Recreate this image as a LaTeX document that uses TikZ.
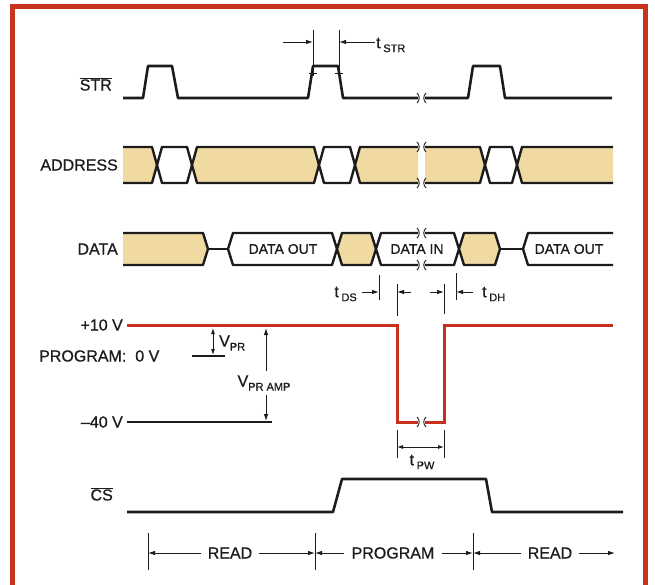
\documentclass[tikz,border=0pt]{standalone}
\usepackage{fontspec}
\setmainfont{Liberation Sans}[FakeBold=0.8]
\usetikzlibrary{arrows.meta, positioning, calc}
\definecolor{colFrame}{HTML}{C9341F}
\definecolor{colPulse}{HTML}{C8301E}
\definecolor{colBus}{HTML}{F0DAA2}
\definecolor{colInk}{HTML}{1C1C1C}
\tikzset{
  lineFrame/.style={draw=colFrame, line width=5pt},
  lineSignal/.style={draw=colInk, line width=2.6pt, line join=round},
  lineBus/.style={draw=colInk, line width=2.4pt, line join=round},
  linePulse/.style={draw=colPulse, line width=3pt, line join=miter},
  lineDim/.style={draw=colInk, line width=0.9pt},
  arrowDim/.style={-{Latex[length=7pt,width=4.5pt]}, line width=0.9pt, colInk},
  arrowDimBoth/.style={{Latex[length=6pt,width=4pt]}-{Latex[length=6pt,width=4pt]},
    line width=0.9pt, colInk},
  markCut/.style={draw=colInk, line width=0.9pt},
  labelSignal/.style={font=\fontsize{16}{18}\selectfont, text=colInk, inner sep=1pt},
  labelBus/.style={font=\fontsize{14}{16}\selectfont, text=colInk, inner sep=1pt},
  labelTime/.style={font=\fontsize{16}{18}\selectfont, text=colInk, inner sep=1pt},
}
% one bus segment between two crossings: xa, xb, ymid, half height, fill
\newcommand{\busSeg}[5]{%
  \draw[lineBus, fill=#5] (#1,#3) -- (#1+5,#3-#4) -- (#2-5,#3-#4) -- (#2,#3)
    -- (#2-5,#3+#4) -- (#1+5,#3+#4) -- cycle;}
% break mark ")(" on a line
\newcommand{\corte}[2]{%
  \draw[markCut] (#1-1,#2-5) .. controls (#1+2,#2-2) and (#1+2,#2+2) .. (#1-1,#2+5);
  \draw[markCut] (#1+8,#2-5) .. controls (#1+5,#2-2) and (#1+5,#2+2) .. (#1+8,#2+5);}
% subscript for time labels
\newcommand{\sbs}[1]{\raisebox{-4pt}{\fontsize{11}{12}\selectfont #1}}

\begin{document}
\begin{tikzpicture}[x=1pt, y=-1pt]
  \useasboundingbox (0,0) rectangle (655,585);
  % Frame
  \draw[lineFrame] (12,585) -- (12,7) -- (645,7) -- (645,585);

  % STR
  \node[labelSignal, anchor=east] (strLbl) at (113,84) {$\overline{\mbox{STR}}$};
  \draw[lineSignal] (123,98) -- (143,98) -- (148,66) -- (172,66) -- (178,98)
    -- (308,98) -- (313,66) -- (338,66) -- (343,98) -- (418,98);
  \draw[lineSignal] (425,98) -- (468,98) -- (473,66) -- (500,66) -- (505,98) -- (612,98);
  \corte{418}{98}
  \draw[lineDim] (313,30) -- (313,76);
  \draw[lineDim] (339,30) -- (339,76);
  \draw[lineDim] (309,73) -- (317,73);
  \draw[lineDim] (335,73) -- (343,73);
  \coordinate (strFrom) at (283,42);
  \coordinate (strA) at (313,42);
  \coordinate (strB) at (339,42);
  \node[labelTime, anchor=west] (tStr) at (375,45) {t\,\sbs{STR}};
  \draw[arrowDim] (strFrom) -- (strA);
  \draw[arrowDim] (tStr.west |- strB) -- (strB);

  % ADDRESS
  \node[labelSignal, anchor=east] (addrLbl) at (119,165) {ADDRESS};
  \foreach \ca/\cb in {123/418, 425/613} {
    \begin{scope}
      \clip (\ca,140) rectangle (\cb,190);
      \foreach \xa/\xb/\col in {113/157/colBus, 157/192/white, 192/319/colBus,
          319/355/white, 355/485/colBus, 485/517/white, 517/623/colBus}
        \busSeg{\xa}{\xb}{165}{18}{\col};
    \end{scope}
  }
  \corte{418}{147}
  \corte{418}{183}

  % DATA
  \node[labelSignal, anchor=east] (dataLbl) at (119,249) {DATA};
  \foreach \ca/\cb in {123/418, 425/613} {
    \begin{scope}
      \clip (\ca,225) rectangle (\cb,275);
      \foreach \xa/\xb/\col in {113/208/colBus, 228/337/white, 337/376/colBus,
          376/459/white, 459/500/colBus, 523/623/white}
        \busSeg{\xa}{\xb}{249}{16}{\col};
      \draw[lineBus] (208,249) -- (228,249);
      \draw[lineBus] (500,249) -- (523,249);
    \end{scope}
  }
  \corte{418}{233}
  \corte{418}{265}
  \node[labelBus] (outA) at (283,249) {DATA OUT};
  \node[labelBus] (dataIn) at (417,249) {DATA IN};
  \node[labelBus] (outB) at (569,249) {DATA OUT};

  % tDS / tDH
  \draw[lineDim] (379,275) -- (379,300);
  \draw[lineDim] (397,284) -- (397,316);
  \draw[lineDim] (444,284) -- (444,314);
  \draw[lineDim] (456,273) -- (456,300);
  \coordinate (dsFrom) at (362,292);  \coordinate (dsTo) at (379,292);
  \coordinate (pwFromA) at (411,292); \coordinate (pwToA) at (397,292);
  \coordinate (pwFromB) at (430,292); \coordinate (pwToB) at (444,292);
  \coordinate (dhFrom) at (473,292);  \coordinate (dhTo) at (456,292);
  \draw[arrowDim] (dsFrom) -- (dsTo);
  \draw[arrowDim] (pwFromA) -- (pwToA);
  \draw[arrowDim] (pwFromB) -- (pwToB);
  \draw[arrowDim] (dhFrom) -- (dhTo);
  \node[labelTime, anchor=east] (tDs) at (358,294) {t\,\sbs{DS}};
  \node[labelTime, anchor=west] (tDh) at (481,294) {t\,\sbs{DH}};

  % Program pulse
  \node[labelSignal, anchor=east] (p10Lbl) at (124,325) {+10 V};
  \node[labelSignal, anchor=west] (progLbl) at (38,356) {PROGRAM:\hspace{9pt}0 V};
  \node[labelSignal, anchor=east] (m40Lbl) at (124,422) {--40 V};
  \draw[linePulse] (p10Lbl.east) ++(3,0) -- (397,325) -- (397,422) -- (418,422);
  \draw[linePulse] (425,422) -- (444,422) -- (444,325) -- (613,325);
  \corte{418}{422}
  \coordinate (zeroA) at (192,356); \coordinate (zeroB) at (225,356);
  \draw[lineDim, line width=1.3pt] (zeroA) -- (zeroB);
  \coordinate (m40End) at (272,422);
  \draw[lineDim, line width=1.3pt] (m40Lbl.east) ++(3,0) -- (m40End);
  \coordinate (vprTop) at (213,328); \coordinate (vprBot) at (213,355);
  \draw[arrowDimBoth] (vprTop) -- (vprBot);
  \node[labelTime, anchor=west] (vprLbl) at (218,343) {V\sbs{PR}};
  \coordinate (vampTop) at (266,328); \coordinate (vampBot) at (266,421);
  \node[labelTime, inner sep=4pt] (vampLbl) at (264,383) {V\sbs{PR AMP}};
  \draw[arrowDim] (vampLbl.north -| vampTop) -- (vampTop);
  \draw[arrowDim] (vampLbl.south -| vampBot) -- (vampBot);

  % tPW
  \draw[lineDim] (397,430) -- (397,458);
  \draw[lineDim] (444,430) -- (444,458);
  \coordinate (pwL) at (397,447); \coordinate (pwR) at (444,447);
  \draw[arrowDimBoth] (pwL) -- (pwR);
  \node[labelTime] (tPw) at (422,462) {t\,\sbs{PW}};

  % CS
  \node[labelSignal, anchor=east] (csLbl) at (114,494) {$\overline{\mbox{CS}}$};
  \draw[lineSignal] (127,512) -- (333,512) -- (342,479) -- (486,479) -- (492,512) -- (623,512);

  % READ / PROGRAM / READ
  \foreach \x [count=\i] in {148,315,473} {
    \draw[lineDim] (\x,533) -- (\x,570);
    \coordinate (tick\i) at (\x,553);
  }
  \coordinate (readEnd) at (615,553);
  \node[labelSignal, inner xsep=7pt] (read1) at (230,553) {READ};
  \node[labelSignal, inner xsep=7pt] (prog) at (393,553) {PROGRAM};
  \node[labelSignal, inner xsep=7pt] (read2) at (550,553) {READ};
  \draw[arrowDim] (read1) -- (tick1);
  \draw[arrowDim] (read1) -- (tick2);
  \draw[arrowDim] (prog) -- (tick2);
  \draw[arrowDim] (prog) -- (tick3);
  \draw[arrowDim] (read2) -- (tick3);
  \draw[arrowDim] (read2) -- (readEnd);
\end{tikzpicture}
\end{document}
